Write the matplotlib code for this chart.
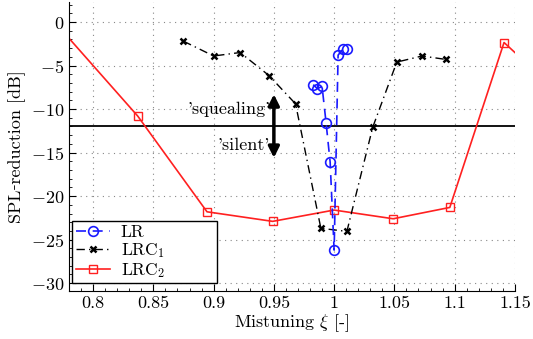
import matplotlib
matplotlib.use("Agg")
import matplotlib.pyplot as plt
from matplotlib.ticker import MultipleLocator

plt.rcParams['font.family'] = ['cmr10', 'DejaVu Serif']
plt.rcParams['mathtext.fontset'] = 'cm'
plt.rcParams['axes.formatter.use_mathtext'] = True
plt.rcParams['axes.unicode_minus'] = True

# LR
lr_x = [0.9826, 0.9861, 0.9900, 0.9933, 0.9967, 1.0000, 1.0033, 1.0070, 1.0110]
lr_y = [-7.2, -7.65, -7.4, -11.55, -16.1, -26.2, -3.8, -3.15, -3.15]
# LRC1
lrc1_x = [0.875, 0.900, 0.922, 0.946, 0.968, 0.989, 1.0106, 1.032, 1.052, 1.073, 1.093]
lrc1_y = [-2.2, -3.9, -3.5, -6.15, -9.4, -23.7, -24.05, -12.1, -4.6, -3.9, -4.3]
# LRC2
lrc2_x = [0.770, 0.837, 0.8945, 0.949, 1.000, 1.049, 1.096, 1.141, 1.190]
lrc2_y = [-0.3, -10.8, -21.8, -22.9, -21.6, -22.6, -21.3, -2.35, -8.6]

threshold = -12.0

fig = plt.figure(figsize=(5.33, 3.39), dpi=100)
ax = fig.add_axes([0.1295, 0.1416, 0.8365, 0.8524])

ax.plot(lr_x, lr_y, color='#1a1aff', linestyle=(0, (6, 4)), linewidth=1.2,
        marker='o', markersize=7, markerfacecolor='none', markeredgecolor='#1a1aff',
        markeredgewidth=1.2, label='LR', zorder=4)
ax.plot(lrc1_x, lrc1_y, color='black', linestyle=(0, (6, 3, 1, 3)), linewidth=1.0,
        marker='x', markersize=5, markeredgewidth=1.8, label='LRC$_1$', zorder=3)
ax.plot(lrc2_x, lrc2_y, color='#ff2020', linestyle='-', linewidth=1.2,
        marker='s', markersize=6, markerfacecolor='none', markeredgecolor='#ff2020',
        markeredgewidth=1.0, label='LRC$_2$', zorder=2)

ax.axhline(threshold, color='black', linewidth=1.3, zorder=1)

ax.annotate('', xy=(0.95, -8.3), xytext=(0.95, -15.6),
            arrowprops=dict(arrowstyle='<|-|>', color='black', lw=2.5,
                            mutation_scale=16, shrinkA=0, shrinkB=0))
ax.text(0.947, -10.0, "'squealing'", ha='right', va='center', fontsize=13)
ax.text(0.947, -14.2, "'silent'", ha='right', va='center', fontsize=13)

ax.set_xlim(0.78, 1.15)
ax.set_ylim(-30.9, 2.3)
ax.set_xticks([0.8, 0.85, 0.9, 0.95, 1.0, 1.05, 1.1, 1.15])
ax.set_xticklabels(['0.8', '0.85', '0.9', '0.95', '1', '1.05', '1.1', '1.15'])
ax.set_yticks([0, -5, -10, -15, -20, -25, -30])
ax.xaxis.set_minor_locator(MultipleLocator(0.01))
ax.yaxis.set_minor_locator(MultipleLocator(1))
ax.tick_params(which='both', direction='in', labelsize=13)
ax.tick_params(which='major', length=5)
ax.tick_params(which='minor', length=2.5)
for s in ['top', 'right']:
    ax.spines[s].set_visible(False)
ax.grid(True, which='major', linestyle=(0, (1, 4)), color='#888888', linewidth=0.8)

ax.set_xlabel('Mistuning $\\xi$ [-]', fontsize=13, labelpad=1)
ax.set_ylabel('SPL\u2010reduction [dB]', fontsize=13)
ax.yaxis.set_label_coords(-0.096, 0.5)

leg = ax.legend(loc='lower left', bbox_to_anchor=(0.007, 0.027, 0.325, 0.225),
                mode='expand', fontsize=12.5, fancybox=False, framealpha=1,
                edgecolor='black', borderaxespad=0.0, handlelength=2.0,
                labelspacing=0.05, borderpad=0.2, handletextpad=0.6)
leg.get_frame().set_linewidth(1.0)

fig.savefig('out.png', dpi=100)
